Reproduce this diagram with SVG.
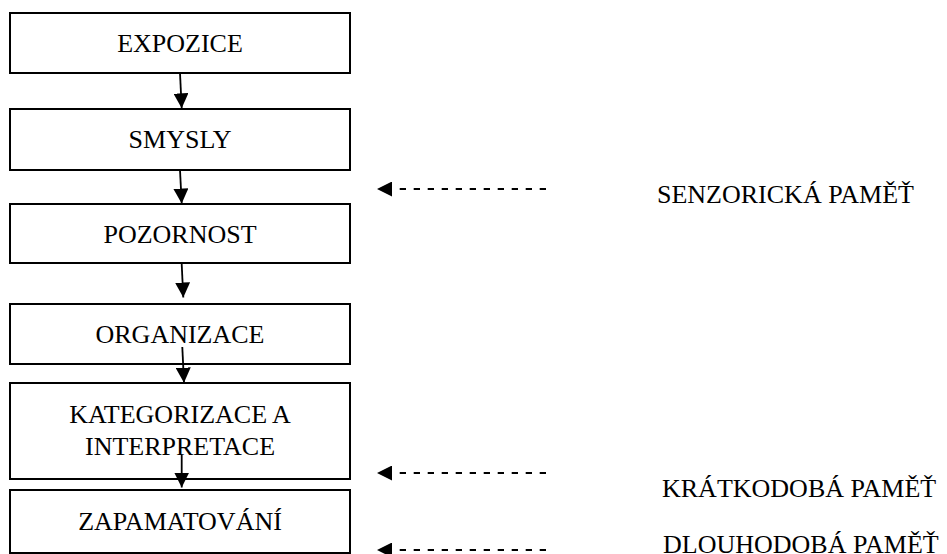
<svg xmlns="http://www.w3.org/2000/svg" width="947" height="554" viewBox="0 0 947 554">
<style>
.box{fill:#fff;stroke:#000;stroke-width:2}
.t{font-family:"Liberation Serif","Times New Roman",serif;font-size:26px;fill:#000;text-anchor:middle}
.l{font-family:"Liberation Serif","Times New Roman",serif;font-size:26px;fill:#000}
.a{fill:none;stroke:#000;stroke-width:1.8}
.d{fill:none;stroke:#000;stroke-width:2.2;stroke-dasharray:6.3 7.7}
</style>
<defs>
<marker id="ah" viewBox="0 0 10 10" refX="10" refY="5" markerWidth="15" markerHeight="15" markerUnits="userSpaceOnUse" orient="auto">
<path d="M0,0 L10,5 L0,10 z" fill="#000"/>
</marker>
<marker id="dh" viewBox="0 0 10 10" refX="0" refY="5" markerWidth="16" markerHeight="15" markerUnits="userSpaceOnUse" orient="auto">
<path d="M0,0 L10,5 L0,10 z" fill="#000"/>
</marker>
</defs>
<rect width="947" height="554" fill="#fff"/>
<g id="n1"><rect class="box" x="10" y="13" width="340" height="60"/><text class="t" x="180" y="52">EXPOZICE</text></g>
<g id="n2"><rect class="box" x="10" y="109" width="340" height="61"/><text class="t" x="180" y="148">SMYSLY</text></g>
<g id="n3"><rect class="box" x="10" y="204" width="340" height="59"/><text class="t" x="180" y="243">POZORNOST</text></g>
<g id="n4"><rect class="box" x="10" y="304" width="340" height="60"/><text class="t" x="180" y="343">ORGANIZACE</text></g>
<g id="n5"><rect class="box" x="10" y="383" width="340" height="96"/><text class="t" x="180" y="423">KATEGORIZACE A</text><text class="t" x="180" y="455">INTERPRETACE</text></g>
<g id="n6"><rect class="box" x="10" y="490" width="340" height="63"/><text class="t" x="180" y="530">ZAPAMATOVÁNÍ</text></g>
<g id="l1"><text class="l" x="657" y="203">SENZORICKÁ PAMĚŤ</text></g>
<g id="l2"><text class="l" x="662" y="497">KRÁTKODOBÁ PAMĚŤ</text></g>
<g id="l3"><text class="l" x="663" y="553">DLOUHODOBÁ PAMĚŤ</text></g>
<g id="connectors">
<path class="a" d="M180,73 L181.7,108.3" marker-end="url(#ah)"/>
<path class="a" d="M180,170 L181.7,203.5" marker-end="url(#ah)"/>
<path class="a" d="M181.7,264 L183.3,297.5" marker-end="url(#ah)"/>
<path class="a" d="M182.3,347 L184,382.7" marker-end="url(#ah)"/>
<path class="a" d="M181.7,455 L181.7,487.5" marker-end="url(#ah)"/>
<path class="d" d="M546,189 L392,189" marker-end="url(#dh)"/>
<path class="d" d="M546,473 L392,473" marker-end="url(#dh)"/>
<path class="d" d="M546,550 L392,550" marker-end="url(#dh)"/>
</g>
</svg>
